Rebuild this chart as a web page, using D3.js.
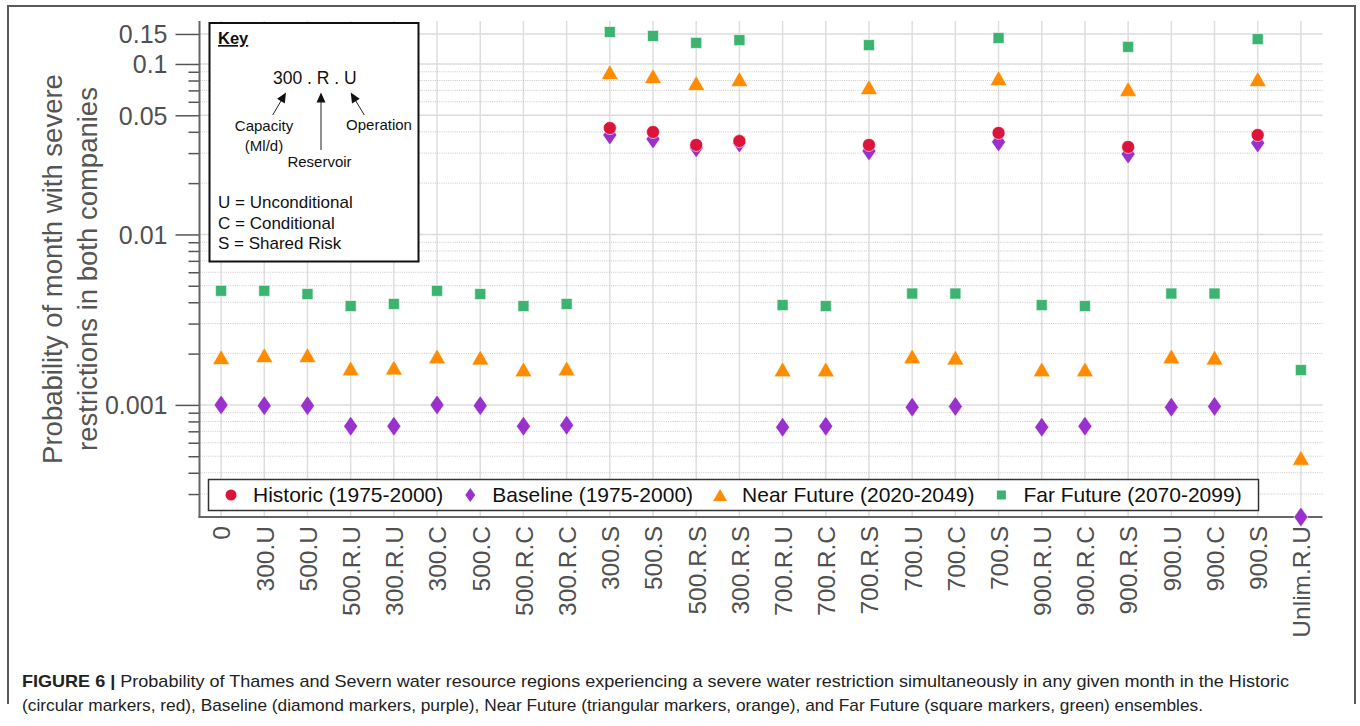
<!DOCTYPE html>
<html><head><meta charset="utf-8">
<script src="https://cdn.jsdelivr.net/npm/d3@7"></script>
<style>body{margin:0;background:#fff;} svg{display:block;font-family:"Liberation Sans",Arial,sans-serif;}</style>
</head><body>
<svg id="chart" width="1360" height="726"></svg>
<script>
const categories = ["0","300.U","500.U","500.R.U","300.R.U","300.C","500.C","500.R.C","300.R.C","300.S","500.S","500.R.S","300.R.S","700.R.U","700.R.C","700.R.S","700.U","700.C","700.S","900.R.U","900.R.C","900.R.S","900.U","900.C","900.S","Unlim.R.U"];
const historic = [null,null,null,null,null,null,null,null,null,0.0421,0.0399,0.0335,0.0353,null,null,0.0335,null,null,0.0394,null,null,0.0326,null,null,0.0383,null];
const baseline = [0.00100,0.00099,0.00099,0.00075,0.00075,0.00100,0.00099,0.00075,0.00076,0.0383,0.0363,0.0322,0.0344,0.00074,0.00075,0.0309,0.00097,0.00098,0.0349,0.00074,0.00075,0.0296,0.00097,0.00098,0.0344,0.00022];
const nearFuture = [0.00191,0.00196,0.00196,0.00164,0.00166,0.00193,0.00190,0.00162,0.00164,0.0898,0.0850,0.0774,0.0817,0.00162,0.00162,0.0733,0.00193,0.00190,0.0828,0.00162,0.00162,0.0714,0.00193,0.00190,0.0817,0.00049];
const farFuture = [0.00467,0.00467,0.00447,0.00380,0.00391,0.00467,0.00447,0.00380,0.00391,0.154,0.146,0.133,0.138,0.00385,0.00380,0.129,0.00450,0.00450,0.142,0.00385,0.00380,0.126,0.00450,0.00450,0.140,0.00160];
const seriesNames = ["Historic (1975-2000)","Baseline (1975-2000)","Near Future (2020-2049)","Far Future (2070-2099)"];
const seriesColors = ["#DC143C","#9932CC","#FF8C00","#3CB371"];
const seriesShapes = ["circle","diamond","triangle","square"];
const majorTicks = [0.15,0.1,0.05,0.01,0.001];
const majorTickLabels = ["0.15","0.1","0.05","0.01","0.001"];
const minorTicks = [0.09,0.08,0.07,0.06,0.04,0.03,0.02,0.009,0.008,0.007,0.006,0.005,0.004,0.003,0.002,0.0009,0.0008,0.0007,0.0006,0.0005,0.0004,0.0003];
const yDomain = [0.00022,0.1787];
const yTitleLines = ["Probability of month with severe","restrictions in both companies"];
const keyLines = ["U = Unconditional","C = Conditional","S = Shared Risk"];
const captionBold = "FIGURE 6 | ";
const captionLine1 = "Probability of Thames and Severn water resource regions experiencing a severe water restriction simultaneously in any given month in the Historic";
const captionLine2 = "(circular markers, red), Baseline (diamond markers, purple), Near Future (triangular markers, orange), and Far Future (square markers, green) ensembles.";

const svg = d3.select("#chart");
const L = 199.5, R = 1322.5, T = 21, B = 517;
const x = d3.scalePoint().domain(categories).range([L, R]).padding(0.5);
const y = d3.scaleLog().domain(yDomain).range([B, T]);

// figure frame
svg.append("path").attr("d", "M8,704V6H1355V704").attr("fill","none").attr("stroke","#5a5a5a").attr("stroke-width",2);

// grid
const grid = svg.append("g");
grid.selectAll(".vg").data(categories).join("line")
  .attr("x1", d => x(d)).attr("x2", d => x(d)).attr("y1", T).attr("y2", B)
  .attr("stroke", "#dedede").attr("stroke-width", 1.5);
grid.selectAll(".mg").data(minorTicks).join("line")
  .attr("x1", L).attr("x2", R).attr("y1", d => y(d)).attr("y2", d => y(d))
  .attr("stroke", "#c8c8c8").attr("stroke-width", 1).attr("stroke-dasharray", "1,1.2");
grid.selectAll(".Mg").data(majorTicks).join("line")
  .attr("x1", L).attr("x2", R).attr("y1", d => y(d)).attr("y2", d => y(d))
  .attr("stroke", "#dcdcdc").attr("stroke-width", 1.5);

// axes
const yAxisMajor = d3.axisLeft(y).tickValues(majorTicks).tickSize(24).tickPadding(8)
  .tickFormat((d,i) => majorTickLabels[i]);
const gy = svg.append("g").attr("transform", `translate(${L},0)`).call(yAxisMajor);
gy.select(".domain").remove();
gy.selectAll(".tick line").attr("stroke", "#555").attr("stroke-width", 1.5);
gy.selectAll(".tick text").attr("font-size", 25).attr("fill", "#505050").attr("font-family", "Liberation Sans, Arial, sans-serif").attr("dy","0.35em");
const gym = svg.append("g").attr("transform", `translate(${L},0)`).call(d3.axisLeft(y).tickValues(minorTicks).tickSize(11).tickFormat(""));
gym.select(".domain").remove();
gym.selectAll(".tick line").attr("stroke", "#555").attr("stroke-width", 1.5);

const gx = svg.append("g").attr("transform", `translate(0,${B})`).call(d3.axisBottom(x).tickSize(0));
gx.select(".domain").remove();
gx.selectAll(".tick text").attr("font-size", 24.5).attr("fill", "#505050").attr("font-family", "Liberation Sans, Arial, sans-serif")
  .attr("transform", "rotate(-90)").attr("x", -9).attr("y", 0).attr("dy", "0.36em").attr("text-anchor", "end");

svg.append("line").attr("x1", L).attr("x2", L).attr("y1", T).attr("y2", B+1).attr("stroke", "#666").attr("stroke-width", 2);
svg.append("line").attr("x1", L-1).attr("x2", R).attr("y1", B).attr("y2", B).attr("stroke", "#666").attr("stroke-width", 2);

// y title
const yt = svg.append("text").attr("transform", `translate(62,${(T+B)/2}) rotate(-90)`)
  .attr("text-anchor", "middle").attr("font-size", 27.5).attr("fill", "#555");
yt.selectAll("tspan").data(yTitleLines).join("tspan").attr("x", 0).attr("dy", (d,i) => i ? 35 : 0).text(d => d);

// markers
function shapePath(shape) {
  if (shape === "circle") return d3.symbol(d3.symbolCircle, Math.PI*6.5*6.5)();
  if (shape === "square") return "M-5.5,-5.5H5.5V5.5H-5.5Z";
  if (shape === "triangle") return "M0,-7.5L8.5,7.5L-8.5,7.5Z";
  if (shape === "diamond") return "M0,-10L7,0L0,10L-7,0Z";
}
const allSeries = [historic, baseline, nearFuture, farFuture];
const drawOrder = [3, 2, 1, 0];
drawOrder.forEach(si => {
  const pts = categories.map((c, i) => ({c, v: allSeries[si][i]})).filter(d => d.v != null);
  svg.append("g").selectAll("path").data(pts).join("path")
    .attr("d", shapePath(seriesShapes[si]))
    .attr("transform", d => `translate(${x(d.c)},${y(d.v)})`)
    .attr("fill", seriesColors[si]).attr("stroke", "#fff").attr("stroke-width", 0.6);
});

// legend
const lg = svg.append("g");
lg.append("rect").attr("x", 208.5).attr("y", 479.5).attr("width", 1050).attr("height", 31)
  .attr("fill", "#fff").attr("stroke", "#333").attr("stroke-width", 1.5);
let lx = 231;
seriesNames.forEach((name, i) => {
  const small = {circle: d3.symbol(d3.symbolCircle, Math.PI*5.5*5.5)(), diamond: "M0,-7L5,0L0,7L-5,0Z", triangle: "M0,-6L7,6L-7,6Z", square: "M-4.5,-4.5H4.5V4.5H-4.5Z"}[seriesShapes[i]];
  lg.append("path").attr("d", small).attr("transform", `translate(${lx},495)`).attr("fill", seriesColors[i]);
  const t = lg.append("text").attr("x", lx + 22).attr("y", 495).attr("dy", "0.35em")
    .attr("font-size", 21).attr("fill", "#111").text(name);
  lx = lx + 22 + t.node().getComputedTextLength() + 27;
});

// key box
const kg = svg.append("g");
kg.append("rect").attr("x", 209.5).attr("y", 23).attr("width", 209).attr("height", 238.5)
  .attr("fill", "#fff").attr("stroke", "#111").attr("stroke-width", 2);
kg.append("text").attr("x", 218).attr("y", 44).attr("font-size", 16.5).attr("font-weight", "bold")
  .attr("text-decoration", "underline").attr("fill", "#111").text("Key");
kg.append("text").attr("x", 273).attr("y", 84).attr("font-size", 17.5).attr("fill", "#111").text("300 . R . U");
const arrows = [[272.7,115,286,92.5],[321,150,321,92.5],[364.3,115,350.7,92.5]];
arrows.forEach(a => {
  const ang = Math.atan2(a[3]-a[1], a[2]-a[0]);
  kg.append("line").attr("x1", a[0]).attr("y1", a[1]).attr("x2", a[2]-Math.cos(ang)*6).attr("y2", a[3]-Math.sin(ang)*6)
    .attr("stroke", "#222").attr("stroke-width", 1);
  kg.append("path").attr("d", "M0,0L-10,-4.5L-10,4.5Z")
    .attr("transform", `translate(${a[2]},${a[3]}) rotate(${ang*180/Math.PI})`).attr("fill", "#111");
});
[["Capacity",264,131],["(Ml/d)",264,151],["Reservoir",319.5,167],["Operation",379,130]].forEach(t => {
  kg.append("text").attr("x", t[1]).attr("y", t[2]).attr("text-anchor", "middle").attr("font-size", 15).attr("fill", "#111").text(t[0]);
});
keyLines.forEach((s, i) => {
  kg.append("text").attr("x", 218).attr("y", 208 + i*20.5).attr("font-size", 17).attr("fill", "#111").text(s);
});

// caption
const c1 = svg.append("text").attr("x", 22).attr("y", 687).attr("font-size", 17).attr("fill", "#222")
  .attr("font-family", "Liberation Sans Narrow, Liberation Sans, Arial, sans-serif")
  .attr("textLength", 1267).attr("lengthAdjust", "spacingAndGlyphs");
c1.append("tspan").attr("font-weight", "bold").text(captionBold);
c1.append("tspan").text(captionLine1);
svg.append("text").attr("x", 22).attr("y", 711).attr("font-size", 17).attr("fill", "#222")
  .attr("font-family", "Liberation Sans Narrow, Liberation Sans, Arial, sans-serif")
  .attr("textLength", 1181).attr("lengthAdjust", "spacingAndGlyphs").text(captionLine2);
</script>
</body></html>
